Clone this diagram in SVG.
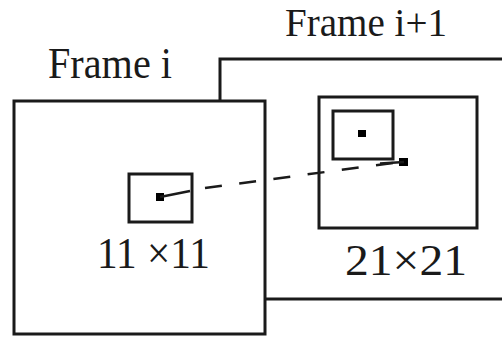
<svg xmlns="http://www.w3.org/2000/svg" width="502" height="339" viewBox="0 0 502 339">
<style>
.box{fill:#fff;stroke:#1a1a1a;stroke-width:3}
.ln{fill:none;stroke:#1a1a1a;stroke-width:2.5}
.t{font-family:"Liberation Serif","Times New Roman",serif;fill:#1a1a1a;font-size:44px}
.dot{fill:#000}
</style>
<rect width="502" height="339" fill="#fff"/>
<g id="frame-i1">
<rect class="box" x="220" y="59" width="290" height="240"/>
<rect class="box" x="319" y="97" width="158" height="131"/>
<rect class="box" x="333" y="111" width="60" height="48"/>
<rect class="dot" x="358" y="130" width="8" height="7"/>
<rect class="dot" x="399" y="158" width="9" height="8"/>
<text class="t" x="285" y="36" style="font-size:40px" textLength="162" lengthAdjust="spacingAndGlyphs">Frame i+1</text>
<text class="t" x="345" y="275" textLength="122" lengthAdjust="spacingAndGlyphs">21×21</text>
</g>
<g id="frame-i">
<rect class="box" x="14" y="101" width="251" height="233"/>
<rect class="box" x="129" y="174" width="63" height="48"/>
<rect class="dot" x="156" y="193" width="8" height="8"/>
<text class="t" x="48" y="78" textLength="124" lengthAdjust="spacingAndGlyphs">Frame i</text>
<text class="t" x="97" y="268" textLength="113" lengthAdjust="spacingAndGlyphs">11 ×11</text>
</g>
<g id="connectors">
<path class="ln" d="M160 197 L190 191"/>
<path class="ln" d="M205 188 L393 163" stroke-dasharray="17 17.5"/>
<path class="ln" d="M380 163.5 L404 162"/>
</g>
</svg>
